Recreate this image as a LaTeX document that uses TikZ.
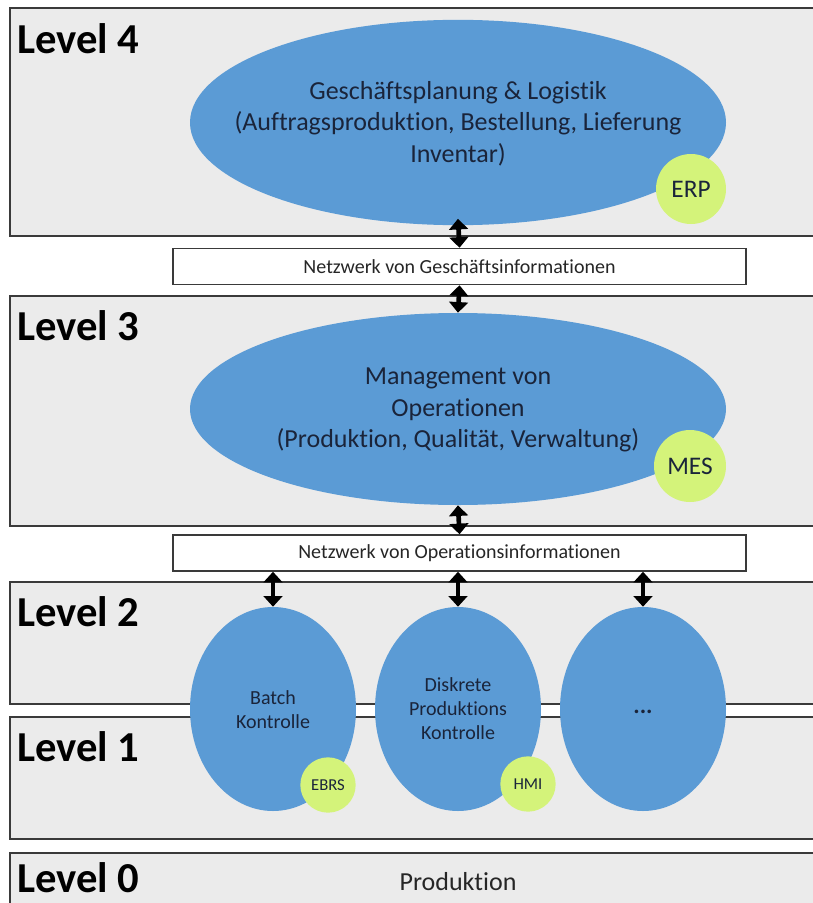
\documentclass[tikz,border=0pt]{standalone}
\usepackage{fontspec}
\setmainfont{Carlito}[Ligatures=NoCommon]
\usetikzlibrary{arrows.meta,shapes.geometric}
\definecolor{lvlgray}{RGB}{235,235,235}
\definecolor{ellblue}{RGB}{91,155,213}
\definecolor{taggreen}{RGB}{212,243,122}
\definecolor{txtnavy}{RGB}{26,36,58}
\definecolor{boxline}{RGB}{58,58,58}
\begin{document}
\begin{tikzpicture}[x=0.75pt,y=-0.75pt,
  levelbox/.style={draw=boxline, line width=1.5pt, fill=lvlgray},
  leveltext/.style={anchor=base west, inner sep=0pt, font=\fontsize{32}{38}\selectfont\bfseries},
  bigell/.style={ellipse, fill=ellblue, draw=none, minimum width=402pt, inner sep=0pt},
  bigtxt/.style={align=center, text=txtnavy, inner sep=0pt, font=\fontsize{19.5}{23.5}\selectfont},
  smallell/.style={ellipse, fill=ellblue, draw=none, minimum width=124.5pt, minimum height=153pt, inner sep=0pt},
  smalltxt/.style={align=center, text=txtnavy, inner sep=0pt, font=\fontsize{15}{18}\selectfont},
  tag/.style={circle, fill=taggreen, draw=none, inner sep=0pt, text=txtnavy},
  netbox/.style={draw=boxline, line width=1.1pt, fill=white, minimum width=429.75pt, minimum height=27pt, inner sep=0pt, text=black!85, font=\fontsize{15}{17}\selectfont},
  dbl/.style={line width=3.5pt, black, {Triangle[length=8pt,width=14pt]}-{Triangle[length=8pt,width=14pt]}}
]
\useasboundingbox (0,0) rectangle (813,903);
\fill[white] (0,0) rectangle (813,903);

% level boxes
\draw[levelbox] (10,8) rectangle (840,236);
\draw[levelbox] (10,296) rectangle (840,526);
\draw[levelbox] (10,582) rectangle (840,704);
\draw[levelbox] (10,717) rectangle (840,839);
\draw[levelbox] (10,853) rectangle (840,930);

\node[leveltext] (lv4) at (17,53) {Level 4};
\node[leveltext] (lv3) at (17,340) {Level 3};
\node[leveltext] (lv2) at (17,626) {Level 2};
\node[leveltext] (lv1) at (17,761) {Level 1};
\node[leveltext] (lv0) at (17,892) {Level 0};

% level 4
\node[bigell, minimum height=154pt] (e4) at (458,122.5) {};
\node[bigtxt] (t4) at (458,123.5) {Geschäftsplanung \& Logistik\\(Auftragsproduktion, Bestellung, Lieferung\\Inventar)};
\node[tag, minimum size=52.5pt, font=\fontsize{19}{22}\selectfont] (erp) at (691,189) {ERP};

% network 1
\node[netbox] (net1) at (459.5,266.5) {Netzwerk von Geschäftsinformationen};

% level 3
\node[bigell, minimum height=144pt] (e3) at (458,409) {};
\node[bigtxt] (t3) at (458,410) {Management von\\Operationen\\(Produktion, Qualität, Verwaltung)};
\node[tag, minimum size=54pt, font=\fontsize{19}{22}\selectfont] (mes) at (690,466) {MES};

% network 2
\node[netbox] (net2) at (459.5,553) {Netzwerk von Operationsinformationen};

% level 2/1 ellipses
\node[smallell] (ea) at (273,709) {};
\node[smallell] (eb) at (458,709) {};
\node[smallell] (ec) at (643,709) {};
\node[smalltxt] (ta) at (273,709.5) {Batch\\Kontrolle};
\node[smalltxt] (tb) at (458,709) {Diskrete\\Produktions\\Kontrolle};
\node[smalltxt, font=\fontsize{18}{20}\selectfont\bfseries] (tc) at (643,712) {...};
\node[tag, minimum size=41.5pt, font=\fontsize{12.5}{15}\selectfont] (ebrs) at (328,785) {EBRS};
\node[tag, minimum size=41.5pt, font=\fontsize{12.5}{15}\selectfont] (hmi) at (528,784) {HMI};

% level 0
\node[font=\fontsize{19.5}{23}\selectfont, text=black!85, inner sep=0pt] (prod) at (458,882) {Produktion};

% arrows
\draw[dbl] ([yshift=5pt]e4.south) -- (net1.north);
\draw[dbl] (net1.south) -- (e3.north);
\draw[dbl] (e3.south) -- (net2.north);
\draw[dbl] (net2.south -| ea.north) -- (ea.north);
\draw[dbl] (net2.south -| eb.north) -- (eb.north);
\draw[dbl] (net2.south -| ec.north) -- (ec.north);
\end{tikzpicture}
\end{document}
